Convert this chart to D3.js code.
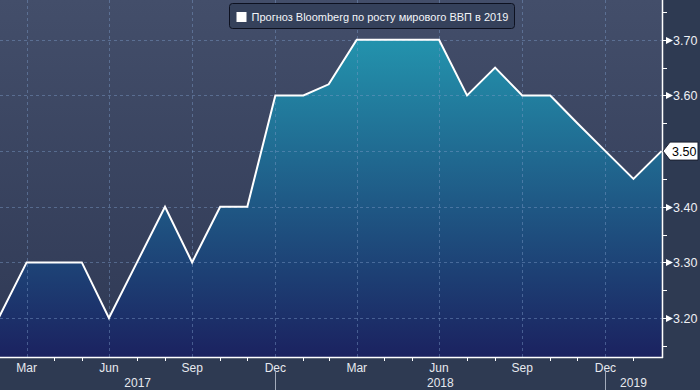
<!DOCTYPE html>
<html>
<head>
<meta charset="utf-8">
<script src="https://cdn.jsdelivr.net/npm/d3@7"></script>
<style>
	body { margin: 0; background: #2e3a52; }
	svg { display: block; font-family: "Liberation Sans", Arial, sans-serif; }
</style>
</head>
<body>
<svg id="chart"></svg>
<script>
const w = 700
const h = 390

// month-end readings of the forecast (last one is early March)
const dates = ['2017-02-28', '2017-03-31', '2017-04-30', '2017-05-31', '2017-06-30', '2017-07-31',
	'2017-08-31', '2017-09-30', '2017-10-31', '2017-11-30', '2017-12-31', '2018-01-31',
	'2018-02-28', '2018-03-31', '2018-04-30', '2018-05-31', '2018-06-30', '2018-07-31',
	'2018-08-31', '2018-09-30', '2018-10-31', '2018-11-30', '2018-12-31', '2019-01-31', '2019-03-03']
const values = [3.20, 3.30, 3.30, 3.30, 3.20, 3.30, 3.40, 3.30, 3.40, 3.40, 3.60, 3.60,
	3.62, 3.70, 3.70, 3.70, 3.70, 3.60, 3.65, 3.60, 3.60, 3.55, 3.50, 3.45, 3.50]
const yTicks = [3.20, 3.30, 3.40, 3.50, 3.60, 3.70]
const yMinor = [3.15, 3.25, 3.35, 3.45, 3.55, 3.65, 3.75]
const monthNames = ['Jan', 'Feb', 'Mar', 'Apr', 'May', 'Jun', 'Jul', 'Aug', 'Sep', 'Oct', 'Nov', 'Dec']
const labelMonths = [2, 5, 8, 11]
const years = [2017, 2018, 2019]
const legendText = 'Прогноз Bloomberg по росту мирового ВВП в 2019'
const lastLabel = '3.50'

const parse = d3.timeParse('%Y-%m-%d')
const data = dates.map((d, i) => ({ date: parse(d), value: values[i] }))

const plotW = 662
const plotH = 357

const SVG = d3.select('#chart')
	.attr('width', w)
	.attr('height', h)

const defs = SVG.append('defs')
const bgGrad = defs.append('linearGradient').attr('id', 'bg')
	.attr('x1', 0).attr('y1', 0).attr('x2', 0).attr('y2', 1)
bgGrad.append('stop').attr('offset', '0%').attr('stop-color', '#434e6a')
bgGrad.append('stop').attr('offset', '100%').attr('stop-color', '#2f3955')

const areaGrad = defs.append('linearGradient').attr('id', 'areaFill')
	.attr('gradientUnits', 'userSpaceOnUse')
	.attr('x1', 0).attr('y1', 39).attr('x2', 0).attr('y2', plotH)
areaGrad.append('stop').attr('offset', '0%').attr('stop-color', '#2393ad')
areaGrad.append('stop').attr('offset', '100%').attr('stop-color', '#1b2260')

SVG.append('rect').attr('width', w).attr('height', h).attr('fill', '#2e3a52')
SVG.append('rect').attr('width', plotW).attr('height', plotH).attr('fill', 'url(#bg)')

const xScale = d3.scaleTime()
	.domain([parse('2017-02-28'), parse('2019-03-03')])
	.range([-1.4, plotW - 0.5])

const yScale = d3.scaleLinear()
	.domain([3.13, 3.7715])
	.range([plotH, 0])

// month end ticks
const monthEnds = d3.timeMonth.range(new Date(2017, 3, 1), new Date(2019, 2, 1))
	.map(d => d3.timeDay.offset(d, -1))
const labeled = monthEnds.filter(d => labelMonths.includes(d.getMonth()))
const unlabeled = monthEnds.filter(d => !labelMonths.includes(d.getMonth()))

// area
const area = d3.area()
	.x(d => xScale(d.date))
	.y0(plotH)
	.y1(d => yScale(d.value))
SVG.append('path').datum(data)
	.attr('d', area)
	.attr('fill', 'url(#areaFill)')

// grid
const grid = SVG.append('g')
	.attr('stroke', 'rgba(125,155,200,0.45)')
	.attr('stroke-dasharray', '3,3')
	.attr('stroke-width', 1)
grid.selectAll('line.h').data(yTicks).enter().append('line')
	.attr('x1', 0).attr('x2', plotW)
	.attr('y1', d => Math.round(yScale(d)) + 0.5)
	.attr('y2', d => Math.round(yScale(d)) + 0.5)
grid.selectAll('line.v').data(labeled).enter().append('line')
	.attr('y1', 0).attr('y2', plotH)
	.attr('x1', d => Math.round(xScale(d)) + 0.5)
	.attr('x2', d => Math.round(xScale(d)) + 0.5)

// line
const line = d3.line()
	.x(d => xScale(d.date))
	.y(d => yScale(d.value))
SVG.append('path').datum(data)
	.attr('d', line)
	.attr('fill', 'none')
	.attr('stroke', 'white')
	.attr('stroke-width', 2)
	.attr('stroke-linejoin', 'miter')

// axes lines
SVG.append('line')
	.attr('x1', 0).attr('x2', plotW + 1).attr('y1', plotH + 0.5).attr('y2', plotH + 0.5)
	.attr('stroke', 'white').attr('stroke-width', 1.5)
SVG.append('line')
	.attr('x1', plotW + 0.5).attr('x2', plotW + 0.5).attr('y1', 0).attr('y2', plotH + 1)
	.attr('stroke', 'white').attr('stroke-width', 1.5)

// x ticks
SVG.selectAll('line.xtick').data(unlabeled).enter().append('line')
	.attr('class', 'xtick')
	.attr('x1', d => Math.round(xScale(d)) + 0.5)
	.attr('x2', d => Math.round(xScale(d)) + 0.5)
	.attr('y1', plotH).attr('y2', plotH + 4)
	.attr('stroke', 'white').attr('stroke-width', 1)

SVG.selectAll('text.month').data(labeled).enter().append('text')
	.attr('class', 'month')
	.attr('x', d => xScale(d))
	.attr('y', plotH + 15)
	.attr('text-anchor', 'middle')
	.attr('font-size', 12)
	.attr('fill', '#e6e9ef')
	.text(d => monthNames[d.getMonth()])

// years
const yearEnds = years.map(y => y < 2019 ? d3.timeDay.offset(new Date(y + 1, 0, 1), -1) : xScale.domain()[1])
const yearStarts = years.map((y, i) => i === 0 ? xScale.domain()[0] : yearEnds[i - 1])
SVG.selectAll('text.year').data(years).enter().append('text')
	.attr('class', 'year')
	.attr('x', (d, i) => (Math.max(0, xScale(yearStarts[i])) + xScale(yearEnds[i])) / 2)
	.attr('y', plotH + 30)
	.attr('text-anchor', 'middle')
	.attr('font-size', 12)
	.attr('fill', '#e6e9ef')
	.text(d => d)
SVG.selectAll('line.yearsep').data(yearEnds.slice(0, 2)).enter().append('line')
	.attr('class', 'yearsep')
	.attr('x1', d => Math.round(xScale(d)) + 0.5)
	.attr('x2', d => Math.round(xScale(d)) + 0.5)
	.attr('y1', plotH + 13).attr('y2', h)
	.attr('stroke', '#a3abbb').attr('stroke-width', 1)

// y ticks
SVG.selectAll('line.yminor').data(yMinor).enter().append('line')
	.attr('x1', plotW).attr('x2', plotW + 5)
	.attr('y1', d => Math.round(yScale(d)) + 0.5)
	.attr('y2', d => Math.round(yScale(d)) + 0.5)
	.attr('stroke', 'white').attr('stroke-width', 1)

const yt = SVG.selectAll('g.ytick').data(yTicks).enter().append('g')
	.attr('class', 'ytick')
	.attr('transform', d => `translate(${plotW}, ${Math.round(yScale(d)) + 0.5})`)
yt.append('line').attr('x1', 0).attr('x2', 5).attr('stroke', 'white')
yt.append('path').attr('d', 'M4,-3.5L11,0L4,3.5Z').attr('fill', 'white')
yt.append('text')
	.attr('x', 11)
	.attr('y', 4.5)
	.attr('font-size', 12.5)
	.attr('fill', '#eef0f4')
	.text(d => d.toFixed(2))

// last value marker
const lastY = yScale(values[values.length - 1])
const marker = SVG.append('g').attr('transform', `translate(${plotW + 1}, ${lastY})`)
marker.append('path')
	.attr('d', 'M0,0L7,-9H35V9H7Z')
	.attr('fill', 'white')
	.attr('stroke', '#1b2030')
	.attr('stroke-width', 1)
marker.append('text')
	.attr('x', 9)
	.attr('y', 4.5)
	.attr('font-size', 12.5)
	.attr('fill', 'black')
	.text(lastLabel)

// legend
const legend = SVG.append('g').attr('transform', 'translate(229.5, 3.5)')
legend.append('rect')
	.attr('width', 285).attr('height', 25).attr('rx', 3)
	.attr('fill', '#35415b')
	.attr('stroke', '#0d1120')
	.attr('stroke-width', 1)
legend.append('rect')
	.attr('x', 7).attr('y', 8.5).attr('width', 10).attr('height', 10)
	.attr('fill', 'white')
legend.append('text')
	.attr('x', 22)
	.attr('y', 17)
	.attr('font-size', 11)
	.attr('fill', '#f2f4f8')
	.text(legendText)
</script>
</body>
</html>
